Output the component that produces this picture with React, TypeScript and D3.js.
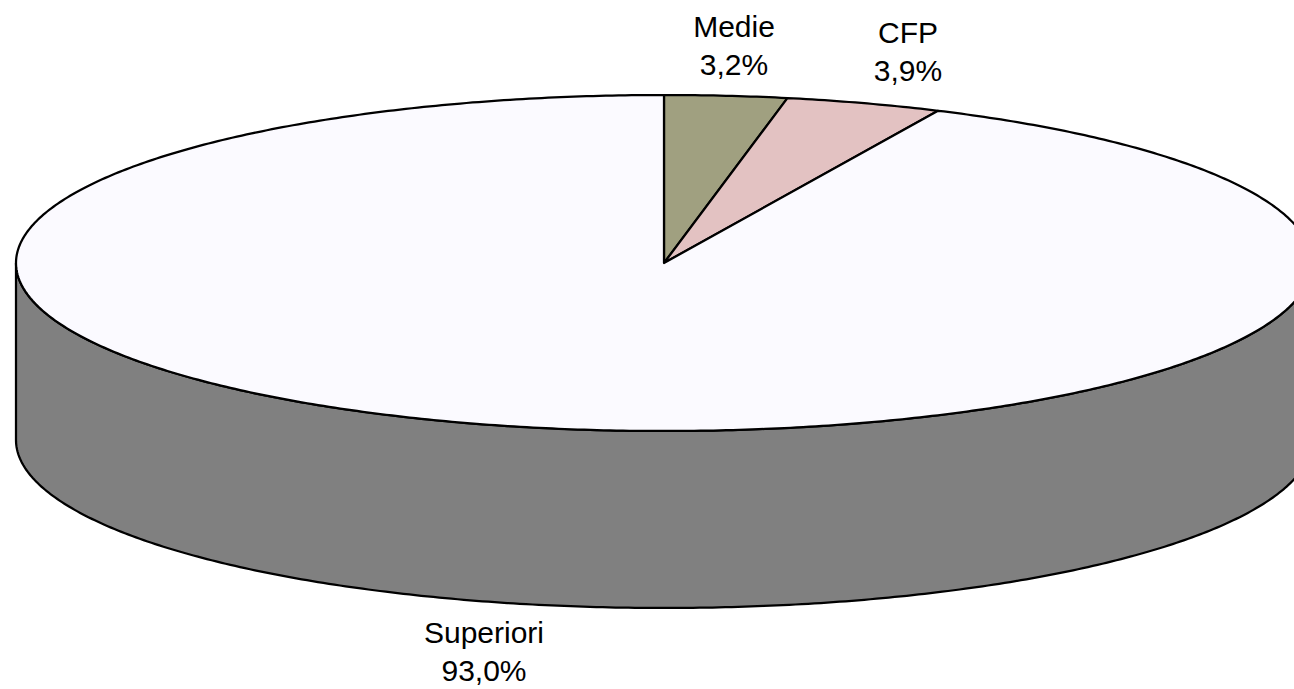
import React from "react";
import * as d3 from "d3";

const categories = ["Medie", "CFP", "Superiori"];
const percentLabels = ["3,2%", "3,9%", "93,0%"];
const sliceShares = [3.05, 3.9, 93.05];
const sliceColors = ["#A0A080", "#E3C2C2", "#FBFAFF"];
const sideColor = "#808080";
const labelCenters = [
  { x: 734, y: 37 },
  { x: 908, y: 43 },
  { x: 484, y: 643 },
];

const W = 1294;
const H = 689;
const cx = 664;
const cy = 263;
const rx = 648;
const ry = 168;
const depth = 177;
const lineGap = 38;
const strokeW = 2.25;

const project = (a: number, dy = 0): [number, number] => [
  cx + rx * Math.sin(a),
  cy + dy - ry * Math.cos(a),
];

const line = d3.line();

const arcPoints = (a0: number, a1: number, dy = 0) => {
  const n = Math.max(2, Math.ceil(Math.abs(a1 - a0) / 0.01));
  return d3.range(n + 1).map((i) => project(a0 + ((a1 - a0) * i) / n, dy));
};

export default function App() {
  const arcs = d3
    .pie<number>()
    .sort(null)
    .value((d) => d)(sliceShares);

  const sidePts = [
    ...arcPoints(Math.PI / 2, (3 * Math.PI) / 2, 0),
    ...arcPoints((3 * Math.PI) / 2, Math.PI / 2, depth),
  ];

  return (
    <svg
      width={W}
      height={H}
      viewBox={`0 0 ${W} ${H}`}
      style={{ position: "fixed", left: 0, top: 0, display: "block", background: "#fff" }}
    >
      <path d={(line(sidePts) ?? "") + "Z"} fill={sideColor} stroke="#000" strokeWidth={strokeW} strokeLinejoin="round" />
      {arcs.map((a, i) => {
        const pts: [number, number][] = [[cx, cy], ...arcPoints(a.startAngle, a.endAngle)];
        return (
          <path
            key={categories[i]}
            d={(line(pts) ?? "") + "Z"}
            fill={sliceColors[i]}
            stroke="#000"
            strokeWidth={strokeW}
            strokeLinejoin="round"
          />
        );
      })}
      <g fontFamily="'Liberation Sans', Arial, sans-serif" fontSize={30} fill="#000" textAnchor="middle">
        {categories.map((c, i) => (
          <g key={c}>
            <text x={labelCenters[i].x} y={labelCenters[i].y}>{c}</text>
            <text x={labelCenters[i].x} y={labelCenters[i].y + lineGap}>{percentLabels[i]}</text>
          </g>
        ))}
      </g>
    </svg>
  );
}
